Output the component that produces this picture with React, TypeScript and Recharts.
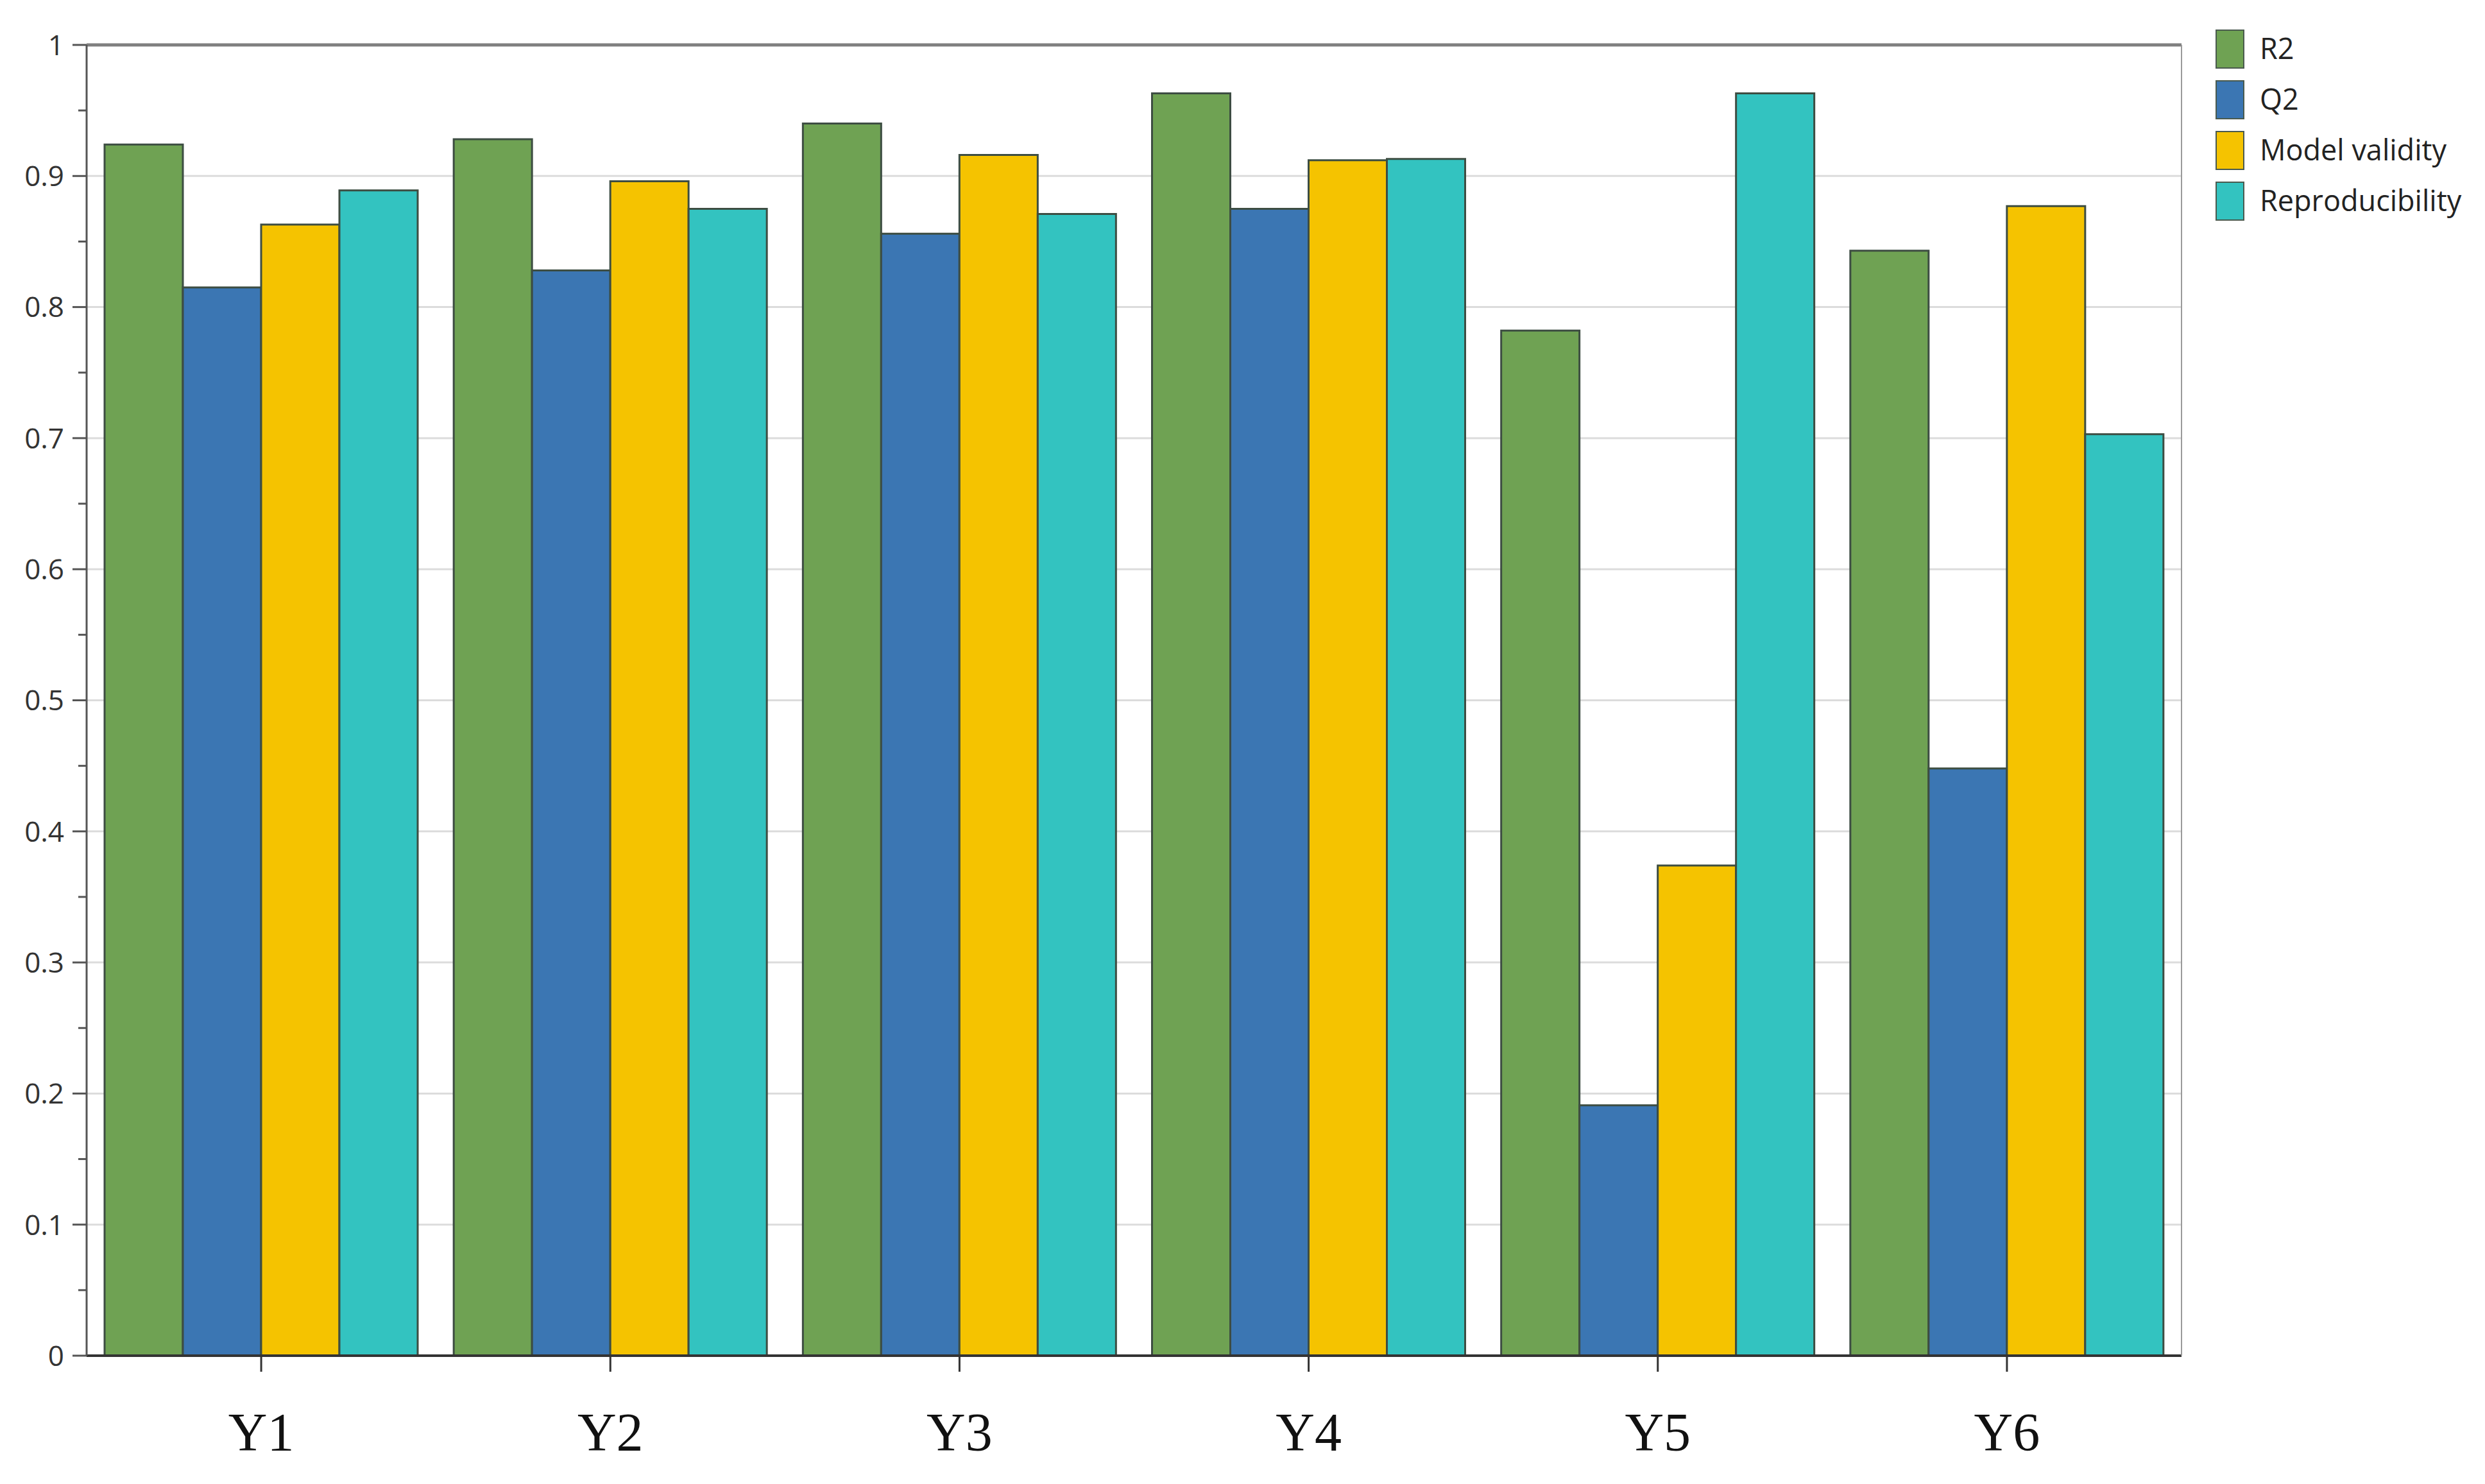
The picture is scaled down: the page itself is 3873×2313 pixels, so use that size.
import React from 'react';
import {
  BarChart,
  Bar,
  XAxis,
  YAxis,
  CartesianGrid } from
'recharts';

const categories = ['Y1', 'Y2', 'Y3', 'Y4', 'Y5', 'Y6'];
const r2 = [0.924, 0.928, 0.940, 0.963, 0.782, 0.843];
const q2 = [0.815, 0.828, 0.856, 0.875, 0.191, 0.448];
const modelValidity = [0.863, 0.896, 0.916, 0.912, 0.374, 0.877];
const reproducibility = [0.889, 0.875, 0.871, 0.913, 0.963, 0.703];

// every 0.05: labelled ticks on the tenths, short minor ticks between
const yTicks = [0, 0.05, 0.1, 0.15, 0.2, 0.25, 0.3, 0.35, 0.4, 0.45, 0.5,
0.55, 0.6, 0.65, 0.7, 0.75, 0.8, 0.85, 0.9, 0.95, 1];
const gridValues = [0.1, 0.2, 0.3, 0.4, 0.5, 0.6, 0.7, 0.8, 0.9];

const series = [
{ key: 'R2', label: 'R2', color: '#6FA253' },
{ key: 'Q2', label: 'Q2', color: '#3B76B3' },
{ key: 'MV', label: 'Model validity', color: '#F5C300' },
{ key: 'RP', label: 'Reproducibility', color: '#33C3C0' }];


const data = categories.map((name, i) => ({
  name,
  R2: r2[i],
  Q2: q2[i],
  MV: modelValidity[i],
  RP: reproducibility[i]
}));

const sansFont = '"Open Sans", "Noto Sans", sans-serif';

const isMajor = (v: number) => Math.abs(v * 10 - Math.round(v * 10)) < 1e-6;
const fmt = (v: number) => v === 0 || v === 1 ? String(v) : v.toFixed(1);

const YTick = (props: any) => {
  const { x, y, payload } = props;
  const major = isMajor(payload.value);
  return (
    <g>
      <line x1={x - (major ? 22 : 13)} x2={x} y1={y} y2={y} stroke="#555" strokeWidth={3} />
      {major &&
      <text x={x - 35} y={y} dy="0.36em" textAnchor="end" fontFamily={sansFont} fontSize={44} fill="#333">
          {fmt(payload.value)}
        </text>
      }
    </g>);

};

const XTick = (props: any) => {
  const { x, y, payload } = props;
  return (
    <text x={x} y={y + 123} textAnchor="middle"
    fontFamily='"Liberation Serif", "Times New Roman", serif' fontSize={84} fill="#111">
      {payload.value}
    </text>);

};

function LegendBox() {
  return (
    <div style={{ position: 'absolute', left: 3445, top: 33 }}>
      {series.map((s) =>
      <div key={s.key} style={{ display: 'flex', alignItems: 'center', height: 79 }}>
          <div style={{
          width: 41,
          height: 57,
          background: s.color,
          border: '2px solid #4a5a4e',
          marginBottom: 8
        }} />
          <span style={{
          marginLeft: 24,
          marginBottom: 12,
          fontFamily: sansFont,
          fontSize: 45,
          color: '#222'
        }}>{s.label}</span>
        </div>
      )}
    </div>);

}

export default function App() {
  return (
    <div style={{ position: 'relative', width: 3857, height: 2297, background: '#fff' }}>
      <BarChart
        width={3857}
        height={2297}
        data={data}
        margin={{ top: 61, right: 464, left: 0, bottom: 0 }}
        barCategoryGap={28}
        barGap={0}>
        
        <CartesianGrid vertical={false} horizontalValues={gridValues} stroke="#dcdcdc" strokeWidth={3} />
        <XAxis
          dataKey="name"
          interval={0}
          height={192}
          tickSize={25}
          tickMargin={0}
          tickLine={{ stroke: '#333', strokeWidth: 3 }}
          axisLine={{ stroke: '#333', strokeWidth: 4 }}
          tick={<XTick />} />
        
        <XAxis
          xAxisId="top"
          dataKey="name"
          orientation="top"
          height={1}
          tick={false}
          tickLine={false}
          axisLine={{ stroke: '#7f7f7f', strokeWidth: 5 }} />
        
        <YAxis
          width={127}
          domain={[0, 1]}
          ticks={yTicks}
          interval={0}
          tickSize={0}
          tickMargin={0}
          tickLine={false}
          axisLine={{ stroke: '#555', strokeWidth: 3 }}
          tick={<YTick />} />
        
        <YAxis
          yAxisId="right"
          orientation="right"
          width={1}
          domain={[0, 1]}
          tick={false}
          tickLine={false}
          axisLine={{ stroke: '#9a9a9a', strokeWidth: 2 }} />
        
        {series.map((s) =>
        <Bar
          key={s.key}
          dataKey={s.key}
          name={s.label}
          fill={s.color}
          stroke="#3d4d42"
          strokeWidth={3}
          isAnimationActive={false} />

        )}
      </BarChart>
      <LegendBox />
    </div>);

}
